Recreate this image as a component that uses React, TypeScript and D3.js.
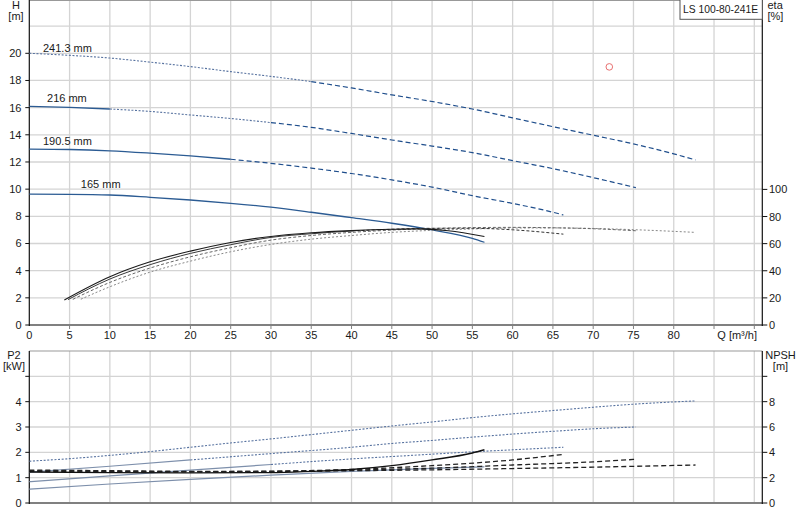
import React from "react";
import * as d3 from "d3";

// ---------- data ----------
const Q_TICKS = [0, 5, 10, 15, 20, 25, 30, 35, 40, 45, 50, 55, 60, 65, 70, 75, 80];
const Q_GRID = [5, 10, 15, 20, 25, 30, 35, 40, 45, 50, 55, 60, 65, 70, 75, 80, 85, 90];
const H_TICKS = [0, 2, 4, 6, 8, 10, 12, 14, 16, 18, 20];
const H_GRID = [2, 4, 6, 8, 10, 12, 14, 16, 18, 20, 22];
const ETA_TICKS = [0, 20, 40, 60, 80, 100];
const P2_TICKS = [0, 1, 2, 3, 4];
const P2_GRID = [1, 2, 3, 4, 5];
const NPSH_TICKS = [0, 2, 4, 6, 8];

const DIAMETERS = ["241.3 mm", "216 mm", "190.5 mm", "165 mm"];
const LABEL_AT: [number, number][] = [[1.7, 20.1], [2.2, 16.45], [1.7, 13.25], [6.4, 10.05]];
const PRODUCT = "LS 100-80-241E";
const DUTY_POINT: [number, number] = [72, 19];

// Head curves H [m] vs Q [m3/h]
const H241: [number, number][] = [[0, 20], [5, 19.85], [10, 19.65], [15, 19.35], [20, 19.02], [25, 18.65], [30, 18.3], [35, 17.92], [40, 17.45], [45, 16.94], [50, 16.45], [55, 15.9], [60, 15.25], [65, 14.6], [70, 13.97], [75, 13.33], [80, 12.6], [82.7, 12.15]];
const H216: [number, number][] = [[0, 16.1], [5, 16.02], [10, 15.9], [15, 15.72], [20, 15.46], [25, 15.2], [30, 14.9], [35, 14.55], [40, 14.1], [45, 13.62], [50, 13.17], [55, 12.69], [60, 12.1], [65, 11.51], [70, 10.85], [75.3, 10.11]];
const H190: [number, number][] = [[0, 12.95], [5, 12.92], [10, 12.82], [15, 12.65], [20, 12.45], [25, 12.2], [30, 11.9], [35, 11.55], [40, 11.15], [45, 10.68], [50, 10.15], [55, 9.52], [60, 8.95], [65, 8.3], [66.3, 8.1]];
const H165: [number, number][] = [[0, 9.63], [5, 9.62], [10, 9.57], [15, 9.4], [20, 9.2], [25, 8.96], [30, 8.67], [35, 8.3], [40, 7.9], [45, 7.49], [50, 7.0], [55, 6.38], [56.5, 6.09]];

// Efficiency eta [%]
const ETA241: [number, number][] = [[6.4, 19], [10, 28.2], [15, 39], [20, 47.1], [25, 54], [30, 59.4], [35, 63.3], [40, 66], [45, 68.3], [50, 69.8], [55, 70.8], [60, 71.5], [65, 71.6], [70, 71.2], [75, 70.3], [82.7, 68.3]];
const ETA216: [number, number][] = [[5.4, 18.9], [10, 31.4], [15, 42], [20, 50.3], [25, 57], [30, 62.6], [35, 66], [40, 68.3], [45, 70], [50, 71.2], [55, 71.8], [60, 72], [65, 71.7], [70, 71], [75.3, 69.5]];
const ETA190: [number, number][] = [[4.8, 18.7], [10, 33.9], [15, 44.5], [20, 52.8], [25, 59.2], [30, 64.6], [35, 67.3], [40, 69.3], [45, 70.6], [50, 71.3], [55, 71.3], [60, 70.2], [66.3, 67]];
const ETA165: [number, number][] = [[4.35, 18.5], [10, 35.6], [15, 46.6], [20, 54.5], [25, 60.9], [30, 65.3], [35, 68], [40, 69.6], [45, 70.6], [48, 70.9], [52, 69.5], [56.5, 65.3]];

// Shaft power P2 [kW]
const P241: [number, number][] = [[0, 1.65], [5, 1.75], [10, 1.88], [15, 2.03], [20, 2.2], [25, 2.37], [30, 2.53], [35, 2.7], [40, 2.87], [45, 3.04], [50, 3.2], [55, 3.37], [60, 3.52], [65, 3.65], [70, 3.78], [75, 3.9], [80, 3.99], [82.7, 4.03]];
const P216: [number, number][] = [[0, 1.22], [10, 1.45], [20, 1.7], [30, 1.95], [40, 2.2], [45, 2.35], [50, 2.47], [55, 2.6], [60, 2.72], [65, 2.83], [70, 2.93], [75.3, 3.0]];
const P190: [number, number][] = [[0, 0.84], [10, 1.07], [20, 1.3], [30, 1.52], [40, 1.74], [46.4, 1.86], [55, 2.02], [60, 2.1], [66.3, 2.2]];
const P165: [number, number][] = [[0, 0.55], [10, 0.75], [20, 0.93], [30, 1.1], [40, 1.25], [50, 1.37], [56.5, 1.43]];

// NPSH [m]
const N241: [number, number][] = [[0, 2.6], [10, 2.55], [20, 2.5], [30, 2.5], [40, 2.55], [50, 2.62], [60, 2.72], [70, 2.83], [82.7, 3.0]];
const N216: [number, number][] = [[0, 2.55], [10, 2.5], [20, 2.48], [30, 2.5], [40, 2.6], [50, 2.75], [60, 3.0], [70, 3.25], [75.3, 3.45]];
const N190: [number, number][] = [[0, 2.5], [10, 2.45], [20, 2.45], [30, 2.5], [40, 2.65], [50, 2.95], [60, 3.4], [66.3, 3.84]];
const N165: [number, number][] = [[0, 2.45], [10, 2.4], [20, 2.38], [30, 2.4], [35, 2.5], [40, 2.65], [45, 2.95], [50, 3.4], [55, 3.95], [56.5, 4.2]];

// ---------- layout / styles ----------
const FONT = "'Liberation Sans', Arial, sans-serif";
const x = d3.scaleLinear().domain([0, 90]).range([29.3, 754.3]);
const X_RIGHT = 762.3;
const yH = d3.scaleLinear().domain([0, 20]).range([325, 53.3]);
const yEta = d3.scaleLinear().domain([0, 100]).range([325, 189.4]);
const yP = d3.scaleLinear().domain([0, 6]).range([503, 351]);
const yN = d3.scaleLinear().domain([0, 12]).range([503, 351]);
const TOP_Y = 0.5;

type Sty = { stroke: string; width: number; dash?: string };
const S: Record<string, Sty> = {
  solidBlue: { stroke: "#2b5b93", width: 1.3 },
  dotBlue: { stroke: "#5873a0", width: 1.1, dash: "2 1.6" },
  dashBlue: { stroke: "#1f4e8c", width: 1.2, dash: "5 3" },
  solidBlack: { stroke: "#1a1a1a", width: 1.1 },
  solidDark: { stroke: "#3a3a3a", width: 1 },
  dashDark: { stroke: "#333", width: 1, dash: "3 2" },
  dashGray: { stroke: "#666", width: 1, dash: "3 2" },
  dotGray: { stroke: "#888", width: 1, dash: "2 2" },
  dashBlackN: { stroke: "#222", width: 1.3, dash: "5 3" },
  solidBlackN: { stroke: "#111", width: 1.4 },
  solidGrayBlue: { stroke: "#7d8fab", width: 1.2 },
};

type Seg = { from: number; to: number; s: Sty };
const SERIES: { data: [number, number][]; y: d3.ScaleLinear<number, number>; segs: Seg[] }[] = [
  { data: H241, y: yH, segs: [{ from: 0, to: 35, s: S.dotBlue }, { from: 35, to: 99, s: S.dashBlue }] },
  { data: H216, y: yH, segs: [{ from: 0, to: 10, s: S.solidBlue }, { from: 10, to: 30, s: S.dotBlue }, { from: 30, to: 99, s: S.dashBlue }] },
  { data: H190, y: yH, segs: [{ from: 0, to: 25, s: S.solidBlue }, { from: 25, to: 99, s: S.dashBlue }] },
  { data: H165, y: yH, segs: [{ from: 0, to: 99, s: S.solidBlue }] },
  { data: ETA241, y: yEta, segs: [{ from: 0, to: 99, s: S.dotGray }] },
  { data: ETA216, y: yEta, segs: [{ from: 0, to: 99, s: S.dashGray }] },
  { data: ETA190, y: yEta, segs: [{ from: 0, to: 40, s: S.solidDark }, { from: 40, to: 99, s: S.dashDark }] },
  { data: ETA165, y: yEta, segs: [{ from: 0, to: 99, s: S.solidBlack }] },
  { data: P241, y: yP, segs: [{ from: 0, to: 99, s: S.dotBlue }] },
  { data: P216, y: yP, segs: [{ from: 0, to: 20, s: S.solidGrayBlue }, { from: 20, to: 99, s: S.dotBlue }] },
  { data: P190, y: yP, segs: [{ from: 0, to: 30, s: S.solidGrayBlue }, { from: 30, to: 99, s: S.dotBlue }] },
  { data: P165, y: yP, segs: [{ from: 0, to: 99, s: S.solidGrayBlue }] },
  { data: N241, y: yN, segs: [{ from: 0, to: 99, s: S.dashBlackN }] },
  { data: N216, y: yN, segs: [{ from: 0, to: 99, s: S.dashBlackN }] },
  { data: N190, y: yN, segs: [{ from: 0, to: 99, s: S.dashBlackN }] },
  { data: N165, y: yN, segs: [{ from: 0, to: 99, s: S.solidBlackN }] },
];

function pathFor(data: [number, number][], y: d3.ScaleLinear<number, number>, from: number, to: number) {
  const pts = data.filter((d) => d[0] >= from && d[0] <= to);
  return d3
    .line<[number, number]>()
    .x((d) => x(d[0]))
    .y((d) => y(d[1]))
    .curve(d3.curveMonotoneX)(pts) || "";
}

const GRID = "#d4d4d4";
const txt = { fontFamily: FONT, fontSize: 11, fill: "#1a1a1a" } as const;

export default function App() {
  return (
    <svg width={800} height={520} style={{ position: "absolute", left: 0, top: 0, background: "#fff" }}>
      <rect x={0} y={0} width={800} height={520} fill="#fff" />
      {/* grids */}
      {Q_GRID.map((q) => (
        <g key={"vg" + q}>
          <line x1={x(q)} x2={x(q)} y1={TOP_Y} y2={325} stroke={GRID} strokeWidth={1.3} />
          <line x1={x(q)} x2={x(q)} y1={yP(6)} y2={503} stroke={GRID} strokeWidth={1.3} />
        </g>
      ))}
      {H_GRID.map((h) => (
        <line key={"hg" + h} x1={x(0)} x2={X_RIGHT} y1={yH(h)} y2={yH(h)} stroke={GRID} strokeWidth={1.3} />
      ))}
      {P2_GRID.map((p) => (
        <line key={"pg" + p} x1={x(0)} x2={X_RIGHT} y1={yP(p)} y2={yP(p)} stroke={GRID} strokeWidth={1.3} />
      ))}
      {/* plot borders */}
      <line x1={x(0)} x2={X_RIGHT} y1={TOP_Y} y2={TOP_Y} stroke="#999" strokeWidth={1} />
      <line x1={x(0)} x2={X_RIGHT} y1={yP(6)} y2={yP(6)} stroke="#999" strokeWidth={1} />
      <line x1={x(0)} x2={X_RIGHT} y1={325} y2={325} stroke="#808080" strokeWidth={2} />
      <line x1={x(0)} x2={X_RIGHT} y1={503} y2={503} stroke="#808080" strokeWidth={2} />
      <line x1={x(0)} x2={x(0)} y1={0} y2={326} stroke="#111" strokeWidth={1.2} />
      <line x1={X_RIGHT} x2={X_RIGHT} y1={0} y2={326} stroke="#111" strokeWidth={1.2} />
      <line x1={x(0)} x2={x(0)} y1={yP(6)} y2={504} stroke="#111" strokeWidth={1.2} />
      <line x1={X_RIGHT} x2={X_RIGHT} y1={yP(6)} y2={504} stroke="#111" strokeWidth={1.2} />

      {/* x ticks */}
      {Q_GRID.map((q) => (
        <line key={"xt" + q} x1={x(q)} x2={x(q)} y1={325} y2={329} stroke="#808080" strokeWidth={1} />
      ))}
      {Q_TICKS.map((q) => (
        <text key={"xl" + q} x={x(q)} y={338.5} textAnchor="middle" {...txt}>{q}</text>
      ))}
      <text x={757} y={338.5} textAnchor="end" {...txt}>Q [m³/h]</text>

      {/* left H axis */}
      {H_TICKS.map((h) => (
        <g key={"ht" + h}>
          <line x1={x(0) - 4} x2={x(0)} y1={yH(h)} y2={yH(h)} stroke="#111" />
          <text x={21.5} y={yH(h) + 4} textAnchor="end" {...txt}>{h}</text>
        </g>
      ))}
      <text x={16} y={9} textAnchor="middle" {...txt}>H</text>
      <text x={16} y={20} textAnchor="middle" {...txt}>[m]</text>
      {/* right eta axis */}
      {ETA_TICKS.map((e) => (
        <g key={"et" + e}>
          <line x1={X_RIGHT} x2={X_RIGHT + 5} y1={yEta(e)} y2={yEta(e)} stroke="#111" />
          <text x={769} y={yEta(e) + 4} textAnchor="start" {...txt}>{e}</text>
        </g>
      ))}
      <text x={767.5} y={9} textAnchor="start" {...txt}>eta</text>
      <text x={767.5} y={20} textAnchor="start" {...txt}>[%]</text>

      {/* bottom left P2 axis */}
      {P2_TICKS.map((p) => (
        <g key={"pt" + p}>
          <line x1={x(0) - 4} x2={x(0)} y1={yP(p)} y2={yP(p)} stroke="#111" />
          <text x={21.5} y={yP(p) + 4} textAnchor="end" {...txt}>{p}</text>
        </g>
      ))}
      <line x1={x(0) - 4} x2={x(0)} y1={yP(5)} y2={yP(5)} stroke="#111" />
      <text x={14} y={358.5} textAnchor="middle" {...txt}>P2</text>
      <text x={14} y={369.5} textAnchor="middle" {...txt}>[kW]</text>
      {NPSH_TICKS.map((n) => (
        <g key={"nt" + n}>
          <line x1={X_RIGHT} x2={X_RIGHT + 5} y1={yN(n)} y2={yN(n)} stroke="#111" />
          <text x={769} y={yN(n) + 4} textAnchor="start" {...txt}>{n}</text>
        </g>
      ))}
      <line x1={X_RIGHT} x2={X_RIGHT + 5} y1={yN(10)} y2={yN(10)} stroke="#111" />
      <text x={780.5} y={359} textAnchor="middle" {...txt}>NPSH</text>
      <text x={780.5} y={370} textAnchor="middle" {...txt}>[m]</text>

      {/* curves */}
      {SERIES.map((ser, i) =>
        ser.segs.map((sg, j) => (
          <path
            key={`c${i}-${j}`}
            d={pathFor(ser.data, ser.y, sg.from, sg.to)}
            fill="none"
            stroke={sg.s.stroke}
            strokeWidth={sg.s.width}
            strokeDasharray={sg.s.dash}
          />
        ))
      )}

      {/* diameter labels */}
      {DIAMETERS.map((d, i) => (
        <text key={"dl" + i} x={x(LABEL_AT[i][0])} y={yH(LABEL_AT[i][1])} {...txt}>{d}</text>
      ))}

      {/* duty point */}
      <circle cx={x(DUTY_POINT[0])} cy={yH(DUTY_POINT[1])} r={3.3} fill="none" stroke="#e87070" strokeWidth={1} />

      {/* product box */}
      <rect x={680} y={-1} width={82.3} height={20.3} fill="#fff" stroke="#555" strokeWidth={1} />
      <text x={683} y={13} {...txt} fontSize={10.3}>{PRODUCT}</text>
    </svg>
  );
}
